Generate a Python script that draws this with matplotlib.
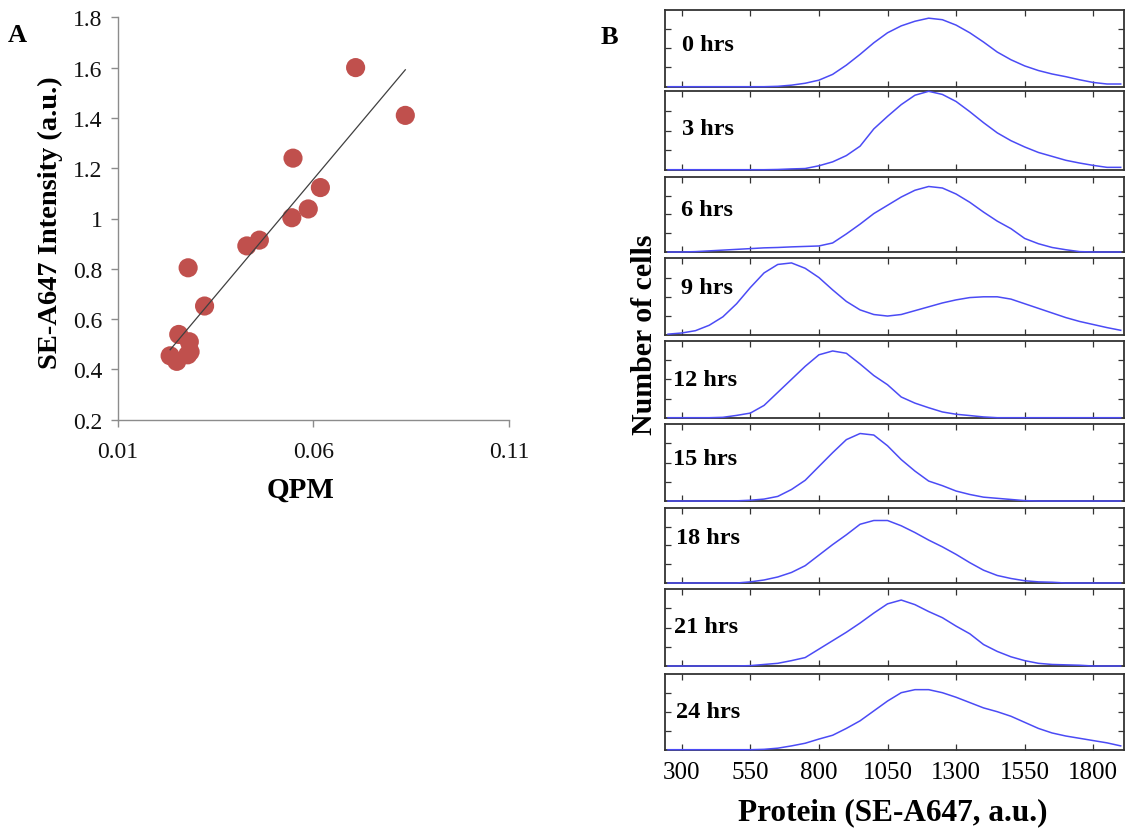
import numpy as np
import matplotlib
matplotlib.use("Agg")
import matplotlib.pyplot as plt

plt.rcParams['font.family'] = ['Liberation Serif', 'DejaVu Serif']

# ---- Panel A: QPM vs SE-A647 intensity ----
qpm = [0.0708, 0.0835, 0.0548, 0.0618, 0.0587, 0.0545, 0.0462, 0.0430,
       0.0280, 0.0322, 0.0256, 0.0283, 0.0234, 0.0251, 0.0279, 0.0285]
intensity = [1.60, 1.41, 1.24, 1.123, 1.038, 1.003, 0.914, 0.891,
             0.804, 0.652, 0.539, 0.510, 0.454, 0.432, 0.458, 0.470]

# ---- Panel B: protein distributions over time ----
time_labels = ['0 hrs', '3 hrs', '6 hrs', '9 hrs', '12 hrs', '15 hrs',
               '18 hrs', '21 hrs', '24 hrs']
protein = list(range(250, 1901, 50))

counts_0 = [0, 0, 0, 0, 0, 0, 0, 0, 0.005, 0.02, 0.045, 0.085, 0.16, 0.28, 0.42,
            0.57, 0.70, 0.79, 0.85, 0.89, 0.87, 0.80, 0.70, 0.58, 0.45, 0.35,
            0.27, 0.21, 0.165, 0.13, 0.09, 0.055, 0.035, 0.035]
counts_3 = [0, 0, 0, 0, 0, 0, 0, 0, 0.003, 0.01, 0.015, 0.05, 0.10, 0.18, 0.30,
            0.52, 0.68, 0.83, 0.95, 1.0, 0.96, 0.87, 0.74, 0.60, 0.47, 0.37,
            0.29, 0.22, 0.17, 0.12, 0.085, 0.055, 0.03, 0.03]
counts_6 = [0, 0, 0.005, 0.015, 0.025, 0.035, 0.045, 0.055, 0.06, 0.068, 0.074,
            0.08, 0.12, 0.24, 0.37, 0.51, 0.62, 0.73, 0.82, 0.87, 0.85, 0.77,
            0.66, 0.53, 0.41, 0.31, 0.18, 0.11, 0.06, 0.03, 0.005, 0, 0, 0]
counts_9 = [0.015, 0.03, 0.06, 0.13, 0.24, 0.41, 0.62, 0.81, 0.92, 0.94, 0.87,
            0.75, 0.59, 0.44, 0.33, 0.27, 0.25, 0.27, 0.32, 0.37, 0.42, 0.46,
            0.49, 0.50, 0.50, 0.47, 0.41, 0.35, 0.29, 0.23, 0.18, 0.14, 0.10,
            0.065]
counts_12 = [0, 0, 0, 0, 0.005, 0.03, 0.06, 0.16, 0.33, 0.50, 0.67, 0.82, 0.87,
             0.84, 0.70, 0.55, 0.43, 0.27, 0.19, 0.13, 0.075, 0.045, 0.028,
             0.01, 0, 0, 0, 0, 0, 0, 0, 0, 0, 0]
counts_15 = [0, 0, 0, 0, 0, 0.002, 0.01, 0.025, 0.06, 0.15, 0.27, 0.45, 0.63,
             0.80, 0.88, 0.86, 0.72, 0.54, 0.39, 0.26, 0.20, 0.13, 0.085, 0.05,
             0.035, 0.02, 0.005, 0, 0, 0, 0, 0, 0, 0]
counts_18 = [0, 0, 0, 0, 0, 0, 0.015, 0.04, 0.08, 0.14, 0.23, 0.37, 0.51, 0.64,
             0.78, 0.83, 0.83, 0.76, 0.67, 0.57, 0.48, 0.38, 0.27, 0.17, 0.10,
             0.06, 0.03, 0.015, 0.01, 0, 0, 0, 0, 0]
counts_21 = [0, 0, 0, 0, 0, 0, 0.005, 0.02, 0.035, 0.07, 0.11, 0.22, 0.33, 0.44,
             0.56, 0.69, 0.81, 0.86, 0.80, 0.71, 0.63, 0.52, 0.42, 0.28, 0.19,
             0.12, 0.07, 0.035, 0.02, 0.015, 0.01, 0, 0, 0]
counts_24 = [0, 0, 0, 0, 0, 0, 0, 0.005, 0.02, 0.05, 0.085, 0.14, 0.19, 0.28,
             0.38, 0.51, 0.64, 0.75, 0.79, 0.79, 0.75, 0.69, 0.62, 0.55, 0.50,
             0.44, 0.36, 0.28, 0.22, 0.18, 0.15, 0.12, 0.09, 0.05]

all_counts = [counts_0, counts_3, counts_6, counts_9, counts_12, counts_15,
              counts_18, counts_21, counts_24]
protein_ticks = [300, 550, 800, 1050, 1300, 1550, 1800]

W, H = 1126, 829
fig = plt.figure(figsize=(W / 100, H / 100), dpi=100)


def px_axes(left, top, right, bottom):
    return fig.add_axes([left / W, 1 - bottom / H, (right - left) / W, (bottom - top) / H])


# ---------------- Panel A ----------------
axA = px_axes(117.7, 18.3, 509, 420.7)
axA.scatter(qpm, intensity, s=190, color='#C0504D', edgecolors='none', zorder=3)
slope, icpt = np.polyfit(qpm, intensity, 1)
xfit = np.array([min(qpm), max(qpm)])
axA.plot(xfit, slope * xfit + icpt, color='#404040', lw=0.9, zorder=4)
axA.set_xlim(0.01, 0.11)
axA.set_ylim(0.2, 1.8)
axA.set_xticks([0.01, 0.06, 0.11])
axA.set_xticklabels(['0.01', '0.06', '0.11'])
axA.set_yticks([0.2, 0.4, 0.6, 0.8, 1.0, 1.2, 1.4, 1.6, 1.8])
axA.set_yticklabels(['0.2', '0.4', '0.6', '0.8', '1', '1.2', '1.4', '1.6', '1.8'])
for side in ('top', 'right'):
    axA.spines[side].set_visible(False)
for side in ('left', 'bottom'):
    axA.spines[side].set_color('#8c8c8c')
    axA.spines[side].set_linewidth(1.0)
axA.tick_params(axis='both', direction='out', length=5, width=1.0,
                color='#8c8c8c', labelsize=17, labelcolor='#111111')
axA.tick_params(axis='x', pad=10)
axA.tick_params(axis='y', pad=6)
fig.text(300.8 / W, 1 - 490 / H, 'QPM', fontsize=21, fontweight='bold',
         ha='center', va='center')
fig.text(50.7 / W, 1 - 223 / H, 'SE-A647 Intensity (a.u.)', fontsize=20.5,
         fontweight='bold', rotation=90, ha='center', va='center')
fig.text(17 / W, 1 - 35 / H, 'A', fontsize=19, fontweight='bold',
         ha='center', va='center')

# ---------------- Panel B ----------------
panel_edges = [(10.7, 87.7), (92.3, 170.7), (177.7, 253.0), (259.3, 336.3),
               (342.0, 418.7), (425.3, 502.0), (508.7, 584.0), (590.3, 667.0),
               (674.7, 750.7)]
label_pos = [(681.7, 0.55), (681.7, 0.52), (680.7, 0.57), (680.7, 0.62),
             (672.7, 0.50), (672.7, 0.55), (676.0, 0.61), (674.0, 0.52),
             (676.0, 0.50)]
xmin, xmax = 239, 1912

for i, (lab, counts) in enumerate(zip(time_labels, all_counts)):
    top, bottom = panel_edges[i]
    ax = px_axes(665, top, 1124, bottom)
    ax.plot(protein, counts, color='#4b4bf5', lw=1.1, clip_on=False, zorder=3)
    ax.set_xlim(xmin, xmax)
    ax.set_ylim(0, 1.0)
    ax.set_xticks(protein_ticks)
    ax.set_yticks([0.25, 0.5, 0.75])
    ax.set_yticklabels([])
    ax.tick_params(axis='both', direction='in', length=4, width=0.9,
                   color='#333333', top=True, right=True)
    if i < len(time_labels) - 1:
        ax.set_xticklabels([])
    else:
        ax.tick_params(axis='x', labelsize=18, pad=8)
    for sp in ax.spines.values():
        sp.set_color('#333333')
        sp.set_linewidth(1.3)
    lx, ly = label_pos[i]
    ax.text((lx - 665) / (1124 - 665), ly, lab, transform=ax.transAxes,
            fontsize=17.5, fontweight='bold', ha='left', va='center')

fig.text(892.5 / W, 1 - 813 / H, 'Protein (SE-A647, a.u.)', fontsize=22.5,
         fontweight='bold', ha='center', va='center')
fig.text(645 / W, 1 - 335 / H, 'Number of cells', fontsize=21.5,
         fontweight='bold', rotation=90, ha='center', va='center')
fig.text(609 / W, 1 - 38 / H, 'B', fontsize=19, fontweight='bold',
         ha='center', va='center')

fig.savefig('out.png', dpi=100)
